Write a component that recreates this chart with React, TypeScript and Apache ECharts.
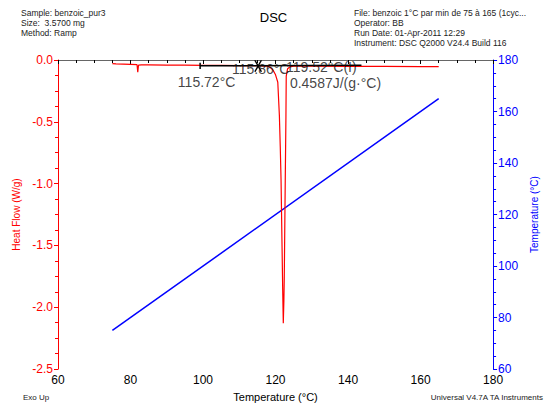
import React, { useEffect, useRef } from "react";
import * as echarts from "echarts";

const FONT = "'Liberation Sans', Arial, sans-serif";

// Heat flow curve (W/g) vs temperature (°C)
const hfTemps = [75, 76, 78, 80, 81.8, 82.0, 82.2, 83, 85, 90, 95, 100, 105, 110, 114, 116, 117.5, 118.35, 119.27, 120.0, 120.62, 121.06, 121.3, 121.52, 121.79, 121.97, 122.14, 122.3, 122.41, 122.68, 122.87, 122.95, 123.33, 124, 125, 130, 140, 150, 160, 165];
const hfValues = [-0.03, -0.032, -0.034, -0.036, -0.038, -0.098, -0.042, -0.04, -0.04, -0.041, -0.042, -0.043, -0.044, -0.045, -0.046, -0.048, -0.05, -0.055, -0.08, -0.12, -0.18, -0.45, -0.7, -0.97, -1.5, -1.85, -2.13, -1.95, -1.76, -0.97, -0.45, -0.13, -0.07, -0.055, -0.05, -0.05, -0.051, -0.052, -0.053, -0.054];

// Sample temperature (°C) vs temperature (°C)
const tempX = [75, 165];
const tempY = [75, 165];

// Analysis construction lines
const tangentLine = [[99.2, -0.047], [143.7, -0.043]];
const startTick = [[99.2, -0.022], [99.2, -0.072]];
const crossA = [[114.3, -0.002], [116.1, -0.095]];
const crossB = [[116.1, -0.002], [114.3, -0.095]];

// Analysis labels
const annotationTexts = ["115.72°C", "115.86°C", "119.52°C(I)", "0.4587J/(g·°C)"];
const annotationX = [93.06, 107.97, 122.87, 123.96];
const annotationY = [-0.178, -0.071, -0.055, -0.182];

// Axis ranges
const xTicks = { min: 60, max: 180, interval: 20 };
const hfTicks = { min: -2.5, max: 0, interval: 0.5 };
const tTicks = { min: 60, max: 180, interval: 20 };

// Header texts
const headerLeft = ["Sample: benzoic_pur3", "Size:  3.5700 mg", "Method: Ramp"];
const headerRight = [
  "File: benzoic 1°C par min de 75 à 165 (1cyc...",
  "Operator: BB",
  "Run Date: 01-Apr-2011 12:29",
  "Instrument: DSC Q2000 V24.4 Build 116",
];
const title = "DSC";
const footLeft = "Exo Up";
const footRight = "Universal V4.7A TA Instruments";

export default function App() {
  const ref = useRef<HTMLDivElement>(null);
  useEffect(() => {
    document.body.style.margin = "0";
    if (!ref.current) return;
    const chart = echarts.init(ref.current, null, { renderer: "svg" });
    const blackLine = (data: number[][]) => ({
      type: "line",
      data,
      xAxisIndex: 0,
      yAxisIndex: 0,
      symbol: "none",
      lineStyle: { color: "#000", width: 1.5 },
      z: 5,
    });
    const graphics: any[] = [];
    headerLeft.forEach((t, i) =>
      graphics.push({
        type: "text",
        left: 21,
        top: 8 + i * 10,
        style: { text: t, font: `8.5px ${FONT}`, fill: "#222" },
      })
    );
    headerRight.forEach((t, i) =>
      graphics.push({
        type: "text",
        left: 354,
        top: 8 + i * 10,
        style: { text: t, font: `8.5px ${FONT}`, fill: "#222" },
      })
    );
    graphics.push({
      type: "text",
      left: "center",
      top: 11,
      style: { text: title, font: `13px ${FONT}`, fill: "#000" },
    });
    graphics.push({
      type: "text",
      left: 23,
      top: 393,
      style: { text: footLeft, font: `8px ${FONT}`, fill: "#222" },
    });
    graphics.push({
      type: "text",
      right: 3,
      top: 393,
      style: { text: footRight, font: `8px ${FONT}`, fill: "#222" },
    });

    chart.setOption({
      animation: false,
      textStyle: { fontFamily: FONT },
      grid: { left: 58, right: 46, top: 60, bottom: 31 },
      graphic: graphics,
      xAxis: [
        {
          type: "value",
          min: xTicks.min,
          max: xTicks.max,
          interval: xTicks.interval,
          name: "Temperature (°C)",
          nameLocation: "middle",
          nameGap: 17,
          nameTextStyle: { fontSize: 11, color: "#000", fontFamily: FONT },
          axisLine: { lineStyle: { color: "#000", width: 1 } },
          axisTick: { length: 4, lineStyle: { color: "#000" } },
          minorTick: { show: true, splitNumber: 4, length: 3, lineStyle: { color: "#000" } },
          axisLabel: { color: "#000", fontSize: 12, margin: 5, fontFamily: FONT },
          splitLine: { show: false },
        },
        {
          type: "value",
          position: "top",
          min: xTicks.min,
          max: xTicks.max,
          axisLine: { show: true, lineStyle: { color: "#666", width: 1.2 } },
          axisTick: { show: false },
          axisLabel: { show: false },
          splitLine: { show: false },
        },
      ],
      yAxis: [
        {
          type: "value",
          min: hfTicks.min,
          max: hfTicks.max,
          interval: hfTicks.interval,
          position: "left",
          name: "Heat Flow (W/g)",
          nameLocation: "middle",
          nameRotate: 90,
          nameGap: 34,
          nameTextStyle: { fontSize: 10, color: "#ff0000", fontFamily: FONT },
          axisLine: { show: true, lineStyle: { color: "#ff0000", width: 1 } },
          axisTick: { length: 4, lineStyle: { color: "#ff0000" } },
          minorTick: { show: true, splitNumber: 4, length: 3, lineStyle: { color: "#ff0000" } },
          axisLabel: {
            color: "#ff0000",
            fontSize: 12,
            margin: 5,
            fontFamily: FONT,
            formatter: (v: number) => v.toFixed(1),
          },
          splitLine: { show: false },
        },
        {
          type: "value",
          min: tTicks.min,
          max: tTicks.max,
          interval: tTicks.interval,
          position: "right",
          name: "Temperature (°C)",
          nameLocation: "middle",
          nameRotate: 90,
          nameGap: 31,
          nameTextStyle: { fontSize: 10, color: "#0000ff", fontFamily: FONT },
          axisLine: { show: true, lineStyle: { color: "#0000ff", width: 1 } },
          axisTick: { length: 4, lineStyle: { color: "#0000ff" } },
          minorTick: { show: true, splitNumber: 4, length: 3, lineStyle: { color: "#0000ff" } },
          axisLabel: { color: "#0000ff", fontSize: 12, margin: 5, fontFamily: FONT },
          splitLine: { show: false },
        },
      ],
      series: [
        {
          type: "line",
          name: "Heat Flow",
          data: hfTemps.map((t, i) => [t, hfValues[i]]),
          xAxisIndex: 0,
          yAxisIndex: 0,
          symbol: "none",
          lineStyle: { color: "#ff0000", width: 1.2 },
          z: 3,
        },
        {
          type: "line",
          name: "Temperature",
          data: tempX.map((t, i) => [t, tempY[i]]),
          xAxisIndex: 0,
          yAxisIndex: 1,
          symbol: "none",
          lineStyle: { color: "#0000ff", width: 1.5 },
          z: 2,
        },
        blackLine(tangentLine),
        blackLine(startTick),
        blackLine(crossA),
        blackLine(crossB),
        {
          type: "scatter",
          xAxisIndex: 0,
          yAxisIndex: 0,
          symbolSize: 0,
          data: annotationX.map((x, i) => ({ value: [x, annotationY[i]], name: annotationTexts[i] })),
          label: {
            show: true,
            position: "right",
            distance: 0,
            formatter: (p: any) => p.name,
            fontSize: 14,
            color: "#111",
            fontFamily: FONT,
          },
          z: 6,
        },
      ],
    });
    return () => chart.dispose();
  }, []);
  return <div ref={ref} style={{ width: 547, height: 407 }} />;
}
